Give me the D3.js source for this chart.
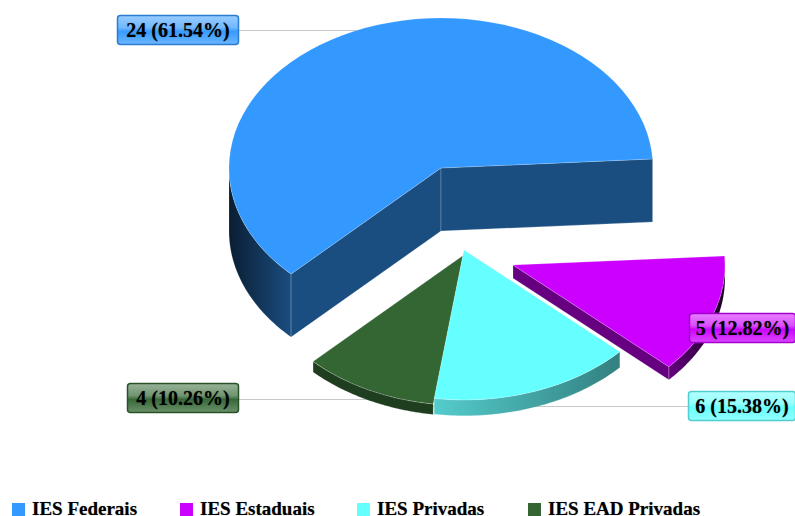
<!DOCTYPE html>
<html>
<head>
<meta charset="utf-8">
<script src="https://cdn.jsdelivr.net/npm/d3@7"></script>
<style>
  html, body { margin: 0; padding: 0; background: #fff; overflow: hidden; }
  text { font-family: "Liberation Serif", serif; font-weight: bold; fill: #000; text-shadow: 0 0 1px rgba(0,0,0,0.45); }
</style>
</head>
<body>
<svg id="chart" width="795" height="516"></svg>
<script>
var categories = ["IES Federais", "IES Estaduais", "IES Privadas", "IES EAD Privadas"];
var values = [24, 5, 6, 4];
var colors = ["#3399FF", "#CC00FF", "#66FFFF", "#336633"];

// layout only, one entry per slice
var centers = [[441, 168], [513, 265], [464, 250], [463, 255.5]];
var labelBoxes = [[117, 15, 121], [689, 313, 106], [688, 391, 107], [127, 383, 111]];
var leaderEnds = [[238, 380, 30], null, [430, 688, 406], [238, 440, 399]];
var legendX = [12, 180, 357, 528];
var drawOrder = [0, 3, 2, 1];

var rx = 212, ry = 150, depthPerUnit = 2.625;
var total = d3.sum(values);
var svg = d3.select("#chart");
var defs = svg.append("defs");

var pie = d3.pie().sort(null).startAngle(Math.PI * 1.25).endAngle(Math.PI * 3.25);
var slices = pie(values);

// d3 angle (0 at 12 o'clock) to a point on the flattened circle
function onEllipse(c, a) {
  return [c[0] + rx * Math.sin(a), c[1] - ry * Math.cos(a)];
}

var line = d3.line();

// outer rim between two angles
function rimPath(c, a0, a1, depth) {
  var n = 60;
  var top = d3.range(n + 1).map(function(i) { return onEllipse(c, a0 + (a1 - a0) * i / n); });
  var bottom = top.map(function(p) { return [p[0], p[1] + depth]; }).reverse();
  return line(top.concat(bottom)) + "Z";
}

function wallPath(c, a, depth) {
  var p = onEllipse(c, a);
  return line([c, p, [p[0], p[1] + depth], [c[0], c[1] + depth]]) + "Z";
}

function rimGradient(id, x1, x2, from, to) {
  var g = defs.append("linearGradient").attr("id", id)
    .attr("gradientUnits", "userSpaceOnUse")
    .attr("x1", x1).attr("x2", x2).attr("y1", 0).attr("y2", 0);
  g.append("stop").attr("offset", 0).attr("stop-color", from);
  g.append("stop").attr("offset", 1).attr("stop-color", to);
}

rimGradient("rim0", 229, 291, "#0a1e33", "#1a4d80");
rimGradient("rim1", 669, 725, "#660080", "#14001a");
rimGradient("rim2", 433, 620, "#55cccc", "#338080");
rimGradient("rim3", 313, 433, "#1f3d1f", "#1f3d1f");

var wallColors = ["#1a4d80", "#660080", "#338080", "#1f3d1f"];
var edge = "rgba(255,255,255,0.3)";

// the cut faces that can be seen from above, by slice
var visibleWalls = [["startAngle", "endAngle"], ["endAngle"], [], []];

// leader lines go under the pie
leaderEnds.forEach(function(d) {
  if (!d) return;
  svg.append("line")
    .attr("x1", d[0]).attr("x2", d[1]).attr("y1", d[2] + 0.5).attr("y2", d[2] + 0.5)
    .attr("stroke", "#c8c8c8").attr("stroke-width", 1);
});

var arc = d3.arc().innerRadius(0).outerRadius(rx);

drawOrder.forEach(function(i) {
  var s = slices[i], c = centers[i];
  var depth = values[i] * depthPerUnit;
  var g = svg.append("g");

  // rim only shows where it faces down: 90-270 deg, and again one turn later
  [Math.PI / 2, Math.PI * 2.5].forEach(function(from) {
    var a0 = Math.max(s.startAngle, from);
    var a1 = Math.min(s.endAngle, from + Math.PI);
    if (a1 <= a0) return;
    g.append("path").attr("d", rimPath(c, a0, a1, depth))
      .attr("fill", "url(#rim" + i + ")").attr("stroke", edge).attr("stroke-width", 0.5);
  });

  visibleWalls[i].forEach(function(k) {
    g.append("path").attr("d", wallPath(c, s[k], depth))
      .attr("fill", wallColors[i]).attr("stroke", edge).attr("stroke-width", 0.7);
  });

  g.append("path")
    .attr("transform", "translate(" + c[0] + "," + c[1] + ") scale(1," + (ry / rx) + ")")
    .attr("d", arc(s))
    .attr("fill", colors[i])
    .attr("stroke", edge).attr("stroke-width", 0.7);
});

// glossy label boxes
categories.forEach(function(name, i) {
  var col = d3.color(colors[i]);
  var grad = defs.append("linearGradient").attr("id", "gloss" + i)
    .attr("x1", 0).attr("x2", 0).attr("y1", 0).attr("y2", 1);
  [[0, 0.5], [0.42, 0.3], [0.55, 0.02], [1, 0.28]].forEach(function(st) {
    grad.append("stop").attr("offset", st[0])
      .attr("stop-color", d3.interpolateRgb(col, "#fff")(st[1]));
  });

  var b = labelBoxes[i];
  svg.append("rect")
    .attr("x", b[0] + 0.5).attr("y", b[1] + 0.5)
    .attr("width", b[2]).attr("height", 29)
    .attr("rx", 3)
    .attr("fill", "url(#gloss" + i + ")")
    .attr("stroke", col.darker(0.6)).attr("stroke-width", 1.5);

  svg.append("text")
    .attr("x", b[0] + b[2] / 2 + 0.5).attr("y", b[1] + 22)
    .attr("text-anchor", "middle")
    .style("font-size", "20px")
    .text(values[i] + " (" + (values[i] / total * 100).toFixed(2) + "%)");
});

// legend
var legend = svg.selectAll("g.legend").data(categories).enter().append("g").attr("class", "legend");
legend.append("rect")
  .attr("x", function(d, i) { return legendX[i]; })
  .attr("y", 503).attr("width", 13).attr("height", 13)
  .attr("fill", function(d, i) { return colors[i]; });
legend.append("text")
  .attr("x", function(d, i) { return legendX[i] + 20; })
  .attr("y", 515)
  .style("font-size", "19px")
  .text(function(d) { return d; });
</script>
</body>
</html>
